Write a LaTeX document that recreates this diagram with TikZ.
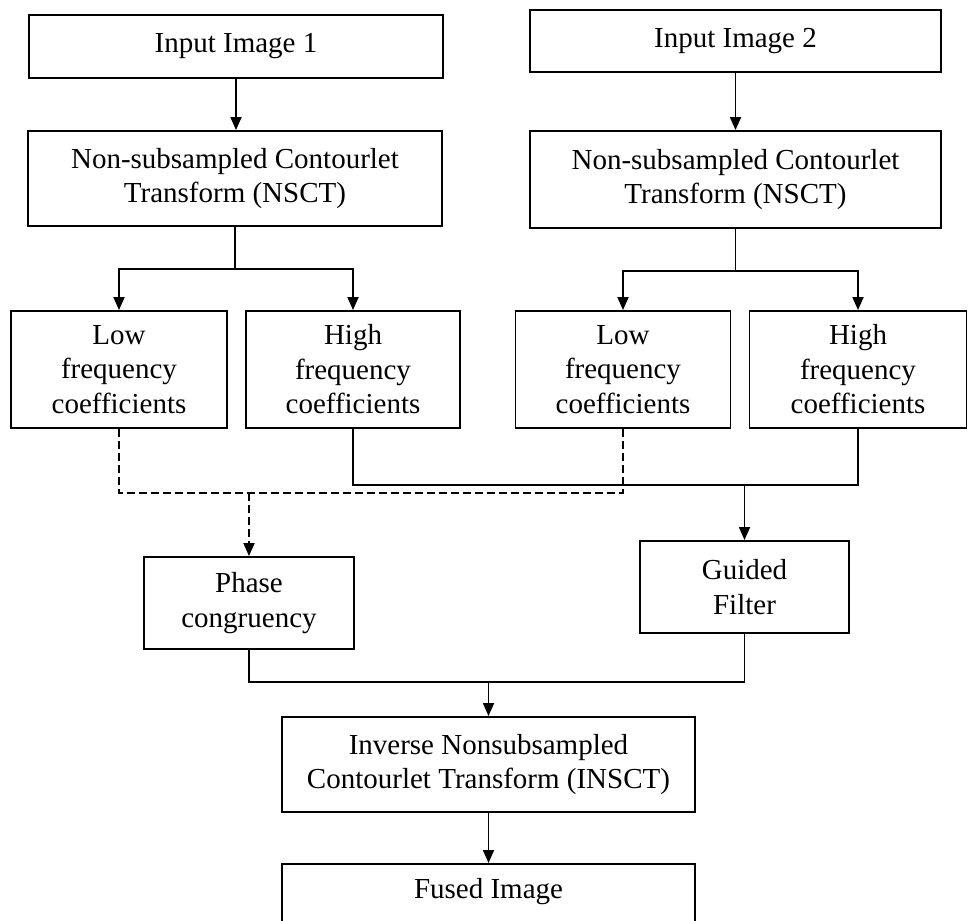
\documentclass[tikz,border=0pt]{standalone}
\usepackage{fontspec}
\setmainfont{Liberation Serif}
\usetikzlibrary{arrows.meta}
\begin{document}
\begin{tikzpicture}[x=1pt,y=-1pt,
  box/.style={draw, line width=1.9pt, align=center, inner sep=0pt,
    font=\fontsize{29}{34.5}\selectfont},
  arr/.style={-{Triangle[width=11pt,length=13pt]}},
  conn/.style={line width=1.8pt},
  dashconn/.style={line width=1.8pt, dash pattern=on 8pt off 4pt}]
\useasboundingbox (0,0) rectangle (968,920);
\fill[white] (0,0) rectangle (968,920);
\node[box, minimum width=414pt, minimum height=63pt] (in1) at (236,46.5) {Input Image 1};
\node[box, minimum width=411pt, minimum height=62pt] (in2) at (735.5,41) {Input Image 2};
\node[box, minimum width=414pt, minimum height=95pt] (ns1) at (235,178.5) {Non-subsampled Contourlet\\Transform (NSCT)};
\node[box, minimum width=411pt, minimum height=97pt] (ns2) at (735.5,179.5) {Non-subsampled Contourlet\\Transform (NSCT)};
\node[box, minimum width=216pt, minimum height=117pt] (lo1) at (119,369.5) {Low\\frequency\\coefficients};
\node[box, minimum width=214pt, minimum height=117pt] (hi1) at (353,369.5) {High\\frequency\\coefficients};
\node[box, minimum width=215pt, minimum height=117pt] (lo2) at (623,369.5) {Low\\frequency\\coefficients};
\node[box, minimum width=217pt, minimum height=117pt] (hi2) at (858,369.5) {High\\frequency\\coefficients};
\node[box, minimum width=210pt, minimum height=92pt] (pc) at (249,603) {Phase\\congruency};
\node[box, minimum width=209pt, minimum height=92pt] (gf) at (744.5,587) {Guided\\Filter};
\node[box, minimum width=413pt, minimum height=95pt] (inv) at (488.5,764.5) {Inverse Nonsubsampled\\Contourlet Transform (INSCT)};
\node[box, minimum width=413pt, minimum height=59pt, anchor=north] (fu) at (488.5,863) {};
\node[font=\fontsize{29}{34}\selectfont] (fut) at (488.5,892) {Fused Image};
% connectors
\draw[conn,arr] (in1.south) -- (in1.south |- ns1.north);
\draw[conn,arr] (in2.south) -- (in2.south |- ns2.north);
\coordinate (j1) at (235,269);
\coordinate (j2) at (735.5,271);
\draw[conn] (ns1.south) -- (j1);
\draw[conn,arr] (j1) -| (lo1.north);
\draw[conn,arr] (j1) -| (hi1.north);
\draw[conn] (ns2.south) -- (j2);
\draw[conn,arr] (j2) -| (lo2.north);
\draw[conn,arr] (j2) -| (hi2.north);
\coordinate (sj) at (744.5,485);
\draw[conn] (hi1.south) |- (sj) -| (hi2.south);
\draw[conn,arr] (sj) -- (gf.north);
\coordinate (dj) at (249,493);
\draw[dashconn] (lo1.south) |- (dj) -| (lo2.south);
\draw[dashconn,arr] (dj) -- (pc.north);
\coordinate (bj) at (488.5,682);
\draw[conn] (pc.south) |- (bj) -| (gf.south);
\draw[conn,arr] (bj) -- (inv.north);
\draw[conn,arr] (inv.south) -- (fu.north);
\end{tikzpicture}
\end{document}
